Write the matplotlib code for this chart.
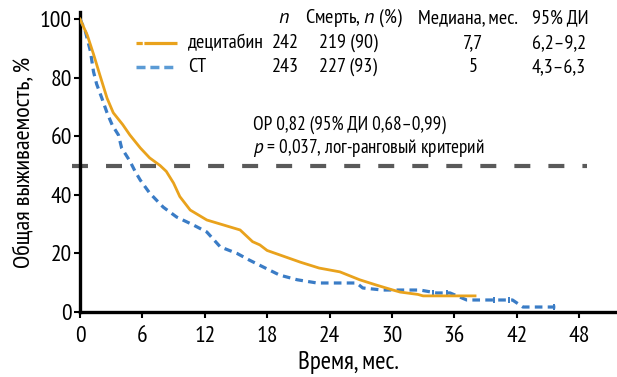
import matplotlib
matplotlib.use("Agg")
import matplotlib.pyplot as plt

plt.rcParams['font.family'] = ['PT Sans Narrow', 'Roboto Condensed', 'DejaVu Sans']
plt.rcParams['lines.scale_dashes'] = False
plt.rcParams['mathtext.fontset'] = 'custom'
plt.rcParams['mathtext.rm'] = 'PT Sans Narrow'
plt.rcParams['mathtext.it'] = 'PT Sans:italic'

# Overall survival estimates (months, %)
decitabine_t = [0, 0.7, 1.3, 1.9, 2.6, 3.2, 4.1, 4.8, 5.8, 6.7, 7.7, 8.3, 9.0, 9.6,
                10.6, 12.2, 13.8, 15.4, 16.6, 17.3, 18.0, 19.2, 21.2, 23.0, 25.0,
                26.9, 28.5, 30.1, 30.8, 32.5, 33.0, 38.0]
decitabine_s = [100, 94.5, 88, 81, 73, 68, 64, 60.4, 56, 52.6, 50, 48, 44, 39.4,
                34.8, 31.4, 29.7, 28, 24, 22.9, 21, 19.5, 17, 15, 13.7,
                11, 9.2, 7.5, 6.8, 6, 5.5, 5.5]

ct_t = [0, 0.5, 1.0, 1.3, 1.6, 2.1, 2.6, 3.1, 3.7, 4.0, 4.8, 5.3, 5.8, 6.7, 8.0,
        9.3, 10.9, 12.2, 13.5, 15.1, 16.3, 17.6, 19.2, 20.9, 22.8, 26.6, 27.2,
        29.1, 32.7, 34.3, 35.6, 37.2, 41.6, 42.6, 45.8]
ct_s = [100, 96, 89, 82, 77.8, 73, 68, 63.8, 60.4, 56, 51.5, 48, 45, 40.6, 35.8,
        32.4, 29.7, 27.3, 22.2, 20, 17.7, 15.4, 12.6, 11, 9.9, 9.9, 8.2,
        7.5, 7.5, 6.5, 6.5, 4.1, 4.1, 1.7, 1.7]

# censored observations on the CT tail
ct_cens_t = [34.0, 35.3, 39.8, 41.3, 45.6]
ct_cens_s = [6.5, 6.5, 4.1, 4.1, 1.7]

x_ticks = [0, 6, 12, 18, 24, 30, 36, 42, 48]
y_ticks = [0, 20, 40, 60, 80, 100]

table_header = ['$\\it{n}$', 'Смерть, $\\it{n}$ (%)', 'Медиана, мес.', '95% ДИ']
table_header_x = [284, 354, 468, 560]
group_names = ['децитабин', 'СТ']
group_n = ['242', '243']
group_deaths = ['219 (90)', '227 (93)']
group_median = ['7,7', '5']
group_ci = ['6,2–9,2', '4,3–6,3']

ORANGE = '#e9a21c'
BLUE = '#3a7cc6'
GREY = '#5a5a5a'

W, H = 617, 377
fig = plt.figure(figsize=(W / 100, H / 100), dpi=100)
ax = fig.add_axes([80 / W, 1 - 312 / H, (W - 80) / W, 300 / H])
ax.set_xlim(0, (W - 80) / 10.396)
ax.set_ylim(0, 300 / 2.93)

# median reference line
ax.plot([-0.8, 48.8], [50, 50], color=GREY, lw=3.0, dashes=(11.5, 13),
        clip_on=False, zorder=1)

ax.plot(ct_t, ct_s, color=BLUE, lw=2.3, dashes=(5.5, 3.8), zorder=3,
        dash_capstyle='butt')
ax.plot(ct_cens_t, ct_cens_s, ls='none', marker='|', ms=5, mew=1.4, color=BLUE, zorder=3)
ax.plot(decitabine_t, decitabine_s, color=ORANGE, lw=2.0, zorder=4)

for side in ('top', 'right'):
    ax.spines[side].set_visible(False)
for side in ('left', 'bottom'):
    ax.spines[side].set_linewidth(2.4)
    ax.spines[side].set_color('black')
ax.set_xticks(x_ticks)
ax.set_yticks(y_ticks)
ax.tick_params(length=4, width=1.5, labelsize=17)
ax.tick_params(axis='x', pad=6)
ax.tick_params(axis='y', pad=2)
ax.set_xlabel('Время, мес.', fontsize=18, labelpad=3)
ax.set_ylabel('Общая выживаемость, %', fontsize=17.5, labelpad=3)
ax.patch.set_alpha(0)


def px(x, y):
    return x / W, 1 - y / H


fs = 14.5
for label, xc in zip(table_header, table_header_x):
    fig.text(*px(xc, 18), label, fontsize=fs, ha='center', va='center')

rows_y = [43, 67]
legend_styles = [dict(color=ORANGE, lw=2.3, dashes=(4.5, 1.2, 40, 0)),
                 dict(color='#5b9bd5', lw=2.5, dashes=(6.5, 3.5))]
for i, y in enumerate(rows_y):
    x0, y0 = ax.transData.inverted().transform((136, H - y))
    x1, _ = ax.transData.inverted().transform((177, H - y))
    ax.plot([x0, x1], [y0, y0], clip_on=False, **legend_styles[i])
    fig.text(*px(188, y), group_names[i], fontsize=fs, ha='left', va='center')
    fig.text(*px(285, y), group_n[i], fontsize=fs, ha='center', va='center')
    fig.text(*px(348, y), group_deaths[i], fontsize=fs, ha='center', va='center')
    fig.text(*px(473, y), group_median[i], fontsize=fs, ha='center', va='center')
    fig.text(*px(559, y), group_ci[i], fontsize=fs, ha='center', va='center')

fig.text(*px(253, 125), 'ОР 0,82 (95% ДИ 0,68–0,99)', fontsize=13.8, ha='left', va='center')
fig.text(*px(253, 148), '$\\it{p}$ = 0,037, лог-ранговый критерий', fontsize=13.8, ha='left', va='center')

fig.savefig('out.png', dpi=100)
